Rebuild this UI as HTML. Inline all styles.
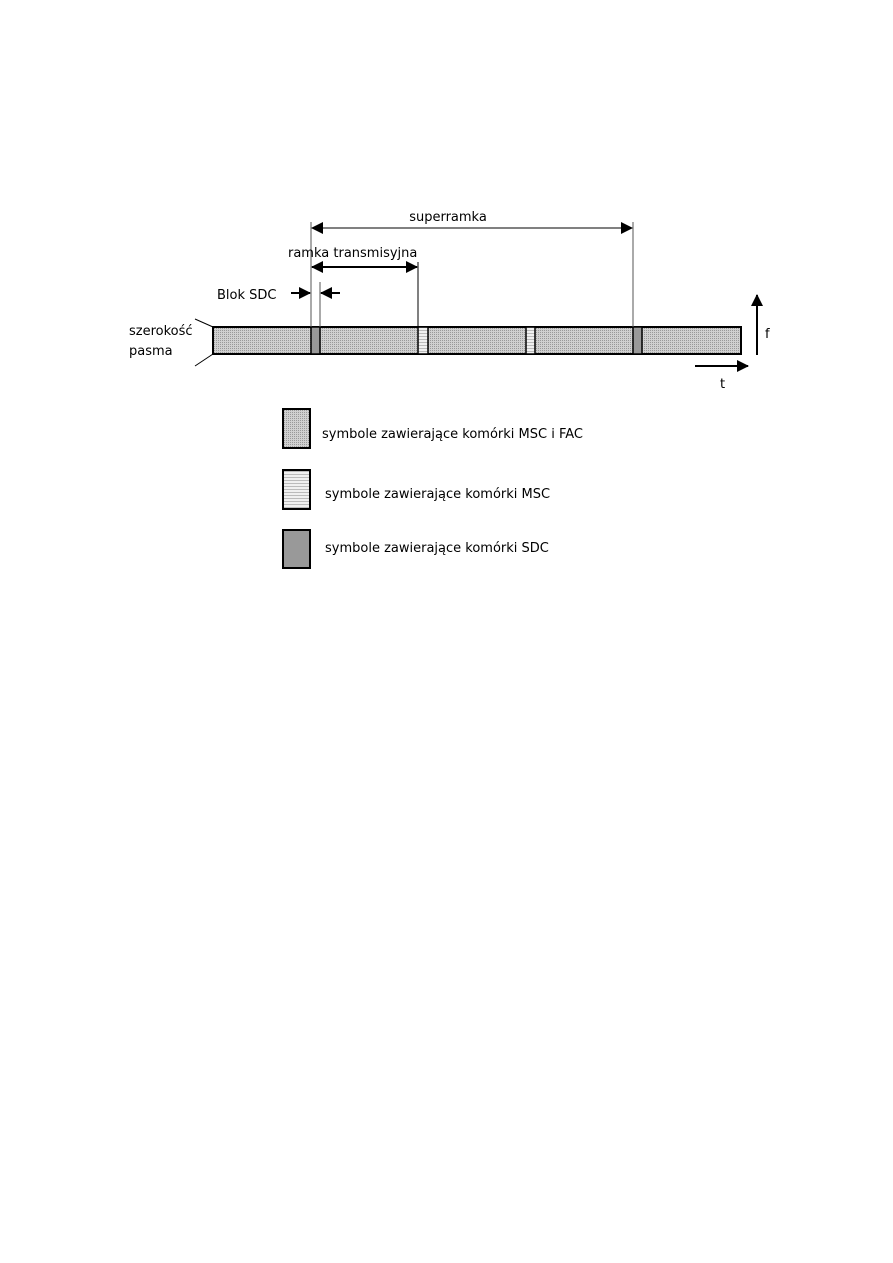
<!DOCTYPE html>
<html><head><meta charset="utf-8"><style>
html,body{margin:0;padding:0;background:#fff;}
svg{display:block;}
text{font-family:"DejaVu Sans","Liberation Sans",sans-serif;font-size:13px;fill:#000;}
</style></head><body>
<svg width="893" height="1263" viewBox="0 0 893 1263" xmlns="http://www.w3.org/2000/svg">
<defs>
<pattern id="dots" width="2" height="2" patternUnits="userSpaceOnUse">
<rect width="2" height="2" fill="#d0d0d0"/><rect x="0" y="0" width="1" height="1" fill="#999"/>
</pattern>
<pattern id="lines" width="3" height="3" patternUnits="userSpaceOnUse">
<rect width="3" height="3" fill="#f0f0f0"/><rect x="0" y="0" width="3" height="1" fill="#bbb"/>
</pattern>
<marker id="ah" markerWidth="12" markerHeight="12" refX="11" refY="6" orient="auto" markerUnits="userSpaceOnUse">
<path d="M0,0 L12,6 L0,12 z" fill="#000"/></marker>
<marker id="ahs" markerWidth="12" markerHeight="12" refX="1" refY="6" orient="auto" markerUnits="userSpaceOnUse">
<path d="M12,0 L0,6 L12,12 z" fill="#000"/></marker>
</defs>

<rect x="213" y="327" width="528" height="27" fill="url(#dots)" stroke="#000" stroke-width="2"/>
<rect x="311" y="327" width="9" height="27" fill="#999" stroke="#000" stroke-width="1.5"/>
<rect x="633" y="327" width="9" height="27" fill="#999" stroke="#000" stroke-width="1.5"/>
<rect x="418" y="327" width="10" height="27" fill="url(#lines)" stroke="#000" stroke-width="1.5"/>
<rect x="526" y="327" width="9" height="27" fill="url(#lines)" stroke="#000" stroke-width="1.5"/>

<line x1="311" y1="222" x2="311" y2="327" stroke="#555" stroke-width="1"/>
<line x1="320" y1="282" x2="320" y2="327" stroke="#555" stroke-width="1"/>
<line x1="418" y1="262" x2="418" y2="327" stroke="#000" stroke-width="1"/>
<line x1="633" y1="222" x2="633" y2="327" stroke="#555" stroke-width="1"/>

<line x1="312" y1="228" x2="632" y2="228" stroke="#000" stroke-width="1" marker-start="url(#ahs)" marker-end="url(#ah)"/>
<text x="448" y="221" text-anchor="middle">superramka</text>
<line x1="312" y1="267" x2="417" y2="267" stroke="#000" stroke-width="2" marker-start="url(#ahs)" marker-end="url(#ah)"/>
<text x="288" y="257">ramka transmisyjna</text>
<line x1="291" y1="293" x2="310" y2="293" stroke="#000" stroke-width="2" marker-end="url(#ah)"/>
<line x1="340" y1="293" x2="321" y2="293" stroke="#000" stroke-width="2" marker-end="url(#ah)"/>
<text x="217" y="299">Blok SDC</text>

<text x="129" y="335">szerokość</text>
<text x="129" y="355">pasma</text>
<line x1="195" y1="319" x2="213" y2="327" stroke="#000" stroke-width="1"/>
<line x1="195" y1="366" x2="213" y2="354" stroke="#000" stroke-width="1"/>

<line x1="757" y1="355" x2="757" y2="295" stroke="#000" stroke-width="2" marker-end="url(#ah)"/>
<text x="765" y="338">f</text>
<line x1="695" y1="366" x2="748" y2="366" stroke="#000" stroke-width="2" marker-end="url(#ah)"/>
<text x="720" y="388">t</text>

<rect x="283" y="409" width="27" height="39" fill="url(#dots)" stroke="#000" stroke-width="2"/>
<text x="322" y="438">symbole zawierające komórki MSC i FAC</text>
<rect x="283" y="470" width="27" height="39" fill="url(#lines)" stroke="#000" stroke-width="2"/>
<text x="325" y="498">symbole zawierające komórki MSC</text>
<rect x="283" y="530" width="27" height="38" fill="#999" stroke="#000" stroke-width="2"/>
<text x="325" y="552">symbole zawierające komórki SDC</text>
</svg>
</body></html>
